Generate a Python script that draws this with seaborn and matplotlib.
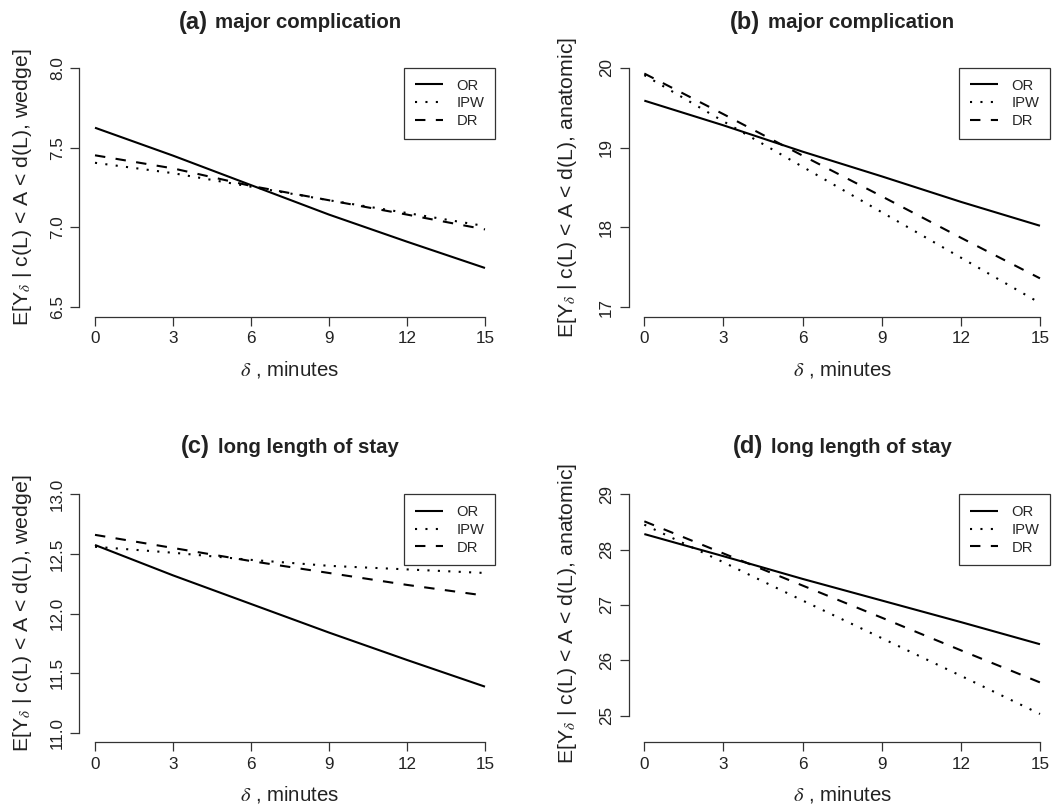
import matplotlib
matplotlib.use("Agg")
import matplotlib.pyplot as plt
import pandas as pd
import seaborn as sns

# shift delta, minutes
delta = [0, 3, 6, 9, 12, 15]
methods = ["OR", "IPW", "DR"]

# (a) major complication, wedge
a_or = [7.625, 7.45, 7.265, 7.08, 6.91, 6.745]
a_ipw = [7.405, 7.34, 7.255, 7.17, 7.09, 7.008]
a_dr = [7.452, 7.37, 7.26, 7.17, 7.08, 6.987]

# (b) major complication, anatomic
b_or = [19.59, 19.28, 18.95, 18.64, 18.32, 18.02]
b_ipw = [19.91, 19.33, 18.76, 18.19, 17.62, 17.05]
b_dr = [19.93, 19.42, 18.90, 18.39, 17.87, 17.36]

# (c) long length of stay, wedge
c_or = [12.575, 12.32, 12.08, 11.84, 11.61, 11.386]
c_ipw = [12.56, 12.51, 12.45, 12.40, 12.37, 12.34]
c_dr = [12.66, 12.55, 12.44, 12.34, 12.24, 12.15]

# (d) long length of stay, anatomic
d_or = [28.28, 27.88, 27.47, 27.08, 26.69, 26.29]
d_ipw = [28.45, 27.77, 27.08, 26.40, 25.72, 25.03]
d_dr = [28.51, 27.93, 27.35, 26.77, 26.18, 25.60]

tags = ["(a)", "(b)", "(c)", "(d)"]
outcomes = ["major complication", "major complication",
            "long length of stay", "long length of stay"]
groups = ["wedge", "anatomic", "wedge", "anatomic"]
yticks = [[6.5, 7.0, 7.5, 8.0], [17, 18, 19, 20],
          [11.0, 11.5, 12.0, 12.5, 13.0], [25, 26, 27, 28, 29]]
ylims = [(6.44, 8.06), (16.88, 20.12), (10.92, 13.08), (24.52, 29.17)]
ytick_fmt = ["{:.1f}", "{:.0f}", "{:.1f}", "{:.0f}"]
series = [(a_or, a_ipw, a_dr), (b_or, b_ipw, b_dr),
          (c_or, c_ipw, c_dr), (d_or, d_ipw, d_dr)]

sns.set_theme(style="white")
plt.rcParams["font.family"] = ["Liberation Sans", "DejaVu Sans"]
plt.rcParams["mathtext.fontset"] = "stix"

fig = plt.figure(figsize=(10.62, 8.05), dpi=100)
W, H = 1062.0, 805.0
# plot regions in pixels: left, top, right, bottom
boxes = [(79.4, 58.4, 500.6, 316.6), (628.5, 58.4, 1055.8, 316.6),
         (79.4, 484.8, 500.6, 742.2), (628.5, 484.8, 1055.8, 742.2)]
ylab_x = [-0.136, -0.142, -0.136, -0.142]

dash_map = {"OR": "", "IPW": (1, 4), "DR": (5, 5)}
axes = []
for i in range(4):
    l, t, r, b = boxes[i]
    ax = fig.add_axes([l / W, 1 - b / H, (r - l) / W, (b - t) / H])
    axes.append(ax)
    df = pd.DataFrame({
        "delta": delta * 3,
        "value": list(series[i][0]) + list(series[i][1]) + list(series[i][2]),
        "method": [m for m in methods for _ in delta],
    })
    sns.lineplot(data=df, x="delta", y="value", style="method",
                 style_order=methods, dashes=dash_map, color="black",
                 linewidth=1.5, ax=ax)
    for ln in ax.lines:
        ln.set_dash_capstyle("butt")
        ln.set_solid_capstyle("butt")

    ax.set_xlim(-0.6, 15.6)
    ax.set_ylim(*ylims[i])
    ax.set_xticks(delta)
    ax.set_xticklabels([str(d) for d in delta])
    ax.set_yticks(yticks[i])
    ax.set_yticklabels([ytick_fmt[i].format(v) for v in yticks[i]],
                       rotation=90, va="center")
    for s in ["top", "right"]:
        ax.spines[s].set_visible(False)
    for s in ["left", "bottom"]:
        ax.spines[s].set_color("#333333")
        ax.spines[s].set_linewidth(0.9)
    ax.spines["bottom"].set_bounds(0, 15)
    ax.spines["left"].set_bounds(yticks[i][0], yticks[i][-1])
    ax.tick_params(axis="both", direction="out", length=6.5, width=0.9,
                   color="#333333", labelsize=12.3, pad=4, bottom=True, left=True,
                   labelcolor="#222222")

    ax.set_xlabel(r"$\delta$ , minutes", fontsize=14.7, color="#222222", labelpad=9)
    ax.set_ylabel(r"E[$\mathregular{Y}_{\delta}$ | c(L) < A < d(L), " + groups[i] + "]",
                  fontsize=15.3, color="#222222")
    ax.yaxis.set_label_coords(ylab_x[i], 0.5)
    ax.yaxis.label.set_verticalalignment("center")

    handles, labels = ax.get_legend_handles_labels()
    leg = ax.legend(handles, labels, loc="upper right",
                    bbox_to_anchor=(0.9867, 0.963), borderaxespad=0,
                    fontsize=10.6, frameon=True, fancybox=False,
                    edgecolor="#333333", framealpha=1, handlelength=1.95,
                    handletextpad=0.9, labelspacing=0.26, borderpad=0.72,
                    title=None)
    leg.get_frame().set_linewidth(0.9)
    for h in leg.get_lines():
        h.set_linewidth(1.5)

# two-part bold titles centred over each plot region
fig.canvas.draw()
rend = fig.canvas.get_renderer()
baselines = [28.5, 28.5, 453.3, 453.3]
for i in range(4):
    l, t, r, b = boxes[i]
    yb = 1 - baselines[i] / H
    t1 = fig.text(0, yb, tags[i], fontsize=17, fontweight="bold",
                  va="baseline", ha="left", color="#222222")
    t2 = fig.text(0, yb, outcomes[i], fontsize=14.7, fontweight="bold",
                  va="baseline", ha="left", color="#222222")
    w1 = t1.get_window_extent(rend).width
    w2 = t2.get_window_extent(rend).width
    gap = 8
    x0 = (l + r) / 2 - (w1 + gap + w2) / 2
    t1.set_x(x0 / W)
    t2.set_x((x0 + w1 + gap) / W)

fig.savefig("out.png", dpi=100)
